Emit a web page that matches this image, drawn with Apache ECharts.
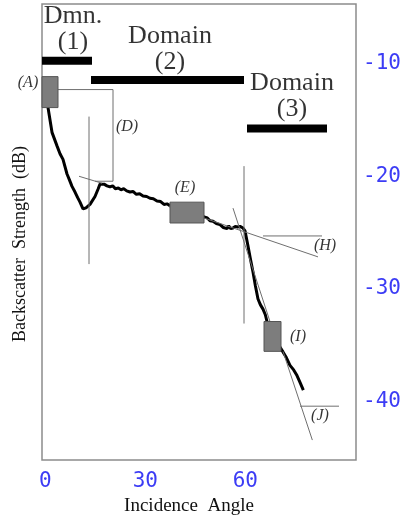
<!DOCTYPE html>
<html>
<head>
<meta charset="utf-8">
<script src="https://cdn.jsdelivr.net/npm/echarts@6/dist/echarts.min.js"></script>
<style>
  html, body { margin: 0; padding: 0; background: #fff; }
  #chart { width: 406px; height: 521px; }
</style>
</head>
<body>
<div id="chart"></div>
<script>
// incidence angle (deg) vs backscatter strength (dB)
const curve = [
  [0.8, -13.9], [2.0, -16.1], [3.5, -17.3], [4.4, -18.0], [5.3, -18.5], [6.5, -19.8],
  [7.2, -20.3], [8.0, -20.9], [8.9, -21.4], [9.7, -21.9], [10.4, -22.3], [11.3, -22.9],
  [12.2, -22.8], [13.4, -22.5], [14.9, -21.8], [15.8, -21.15], [16.4, -20.7], [17.0, -20.85],
  [17.6, -20.7], [18.5, -20.85], [19.4, -20.95], [20.2, -20.85], [21.0, -21.1], [21.9, -21.05],
  [22.7, -21.2], [23.5, -21.1], [24.4, -21.3], [25.4, -21.4], [26.3, -21.35], [27.3, -21.6],
  [28.3, -21.55], [29.3, -21.75], [30.4, -21.8], [31.4, -21.95], [32.4, -22.0], [33.5, -22.2],
  [34.6, -22.25], [35.6, -22.5], [36.5, -22.45], [37.5, -22.65], [40.0, -22.9], [42.5, -23.2],
  [45.0, -23.4], [47.6, -23.6], [48.6, -23.7], [49.4, -23.95], [50.3, -24.0], [51.3, -24.2],
  [52.4, -24.3], [53.4, -24.55], [54.5, -24.65], [55.0, -24.4], [55.6, -24.65], [56.3, -24.6],
  [57.0, -24.45], [57.7, -24.5], [58.4, -24.45], [59.3, -24.6], [59.9, -24.85], [60.8, -26.2],
  [61.5, -27.3], [62.3, -28.5], [63.0, -29.7], [63.8, -30.9], [64.5, -31.4], [65.3, -31.8],
  [66.0, -32.3], [66.5, -32.9], [68.0, -34.2], [70.0, -35.0], [71.3, -35.6], [72.3, -36.1],
  [73.4, -36.8], [74.5, -37.2], [75.5, -37.7], [76.4, -38.3], [77.4, -39.0]
];

// domain bars: [from deg, to deg, dB]
const domainBars = [
  [-1.0, 14.0, -9.74],
  [13.7, 59.6, -11.46],
  [60.5, 84.5, -15.75]
];

// grey boxes: [x0, x1, y0, y1]
const boxes = [
  [-1.0, 3.8, -11.15, -13.9],
  [37.4, 47.6, -22.3, -24.15],
  [65.6, 70.7, -32.9, -35.55]
];

// thin construction lines
const guides = [
  [[13.1, -14.7], [13.1, -27.8]],
  [[3.8, -12.3], [20.3, -12.3], [20.3, -20.44], [14.9, -20.44]],
  [[10.1, -20.0], [17.0, -20.62]],
  [[37.1, -22.65], [81.8, -27.16]],
  [[65.3, -25.3], [83.0, -25.3]],
  [[56.3, -22.83], [67.4, -32.91]],
  [[59.6, -19.1], [59.6, -33.08]],
  [[71.3, -35.56], [80.1, -43.43]],
  [[76.4, -40.42], [88.1, -40.42]]
];

const domainLabels = [
  ['Dmn.\n(1)', 8.3, -6.91],
  ['Domain\n(2)', 37.4, -8.68],
  ['Domain\n(3)', 74.0, -12.92]
];

const markLabels = [
  ['(A)', -5.2, -11.68],
  ['(D)', 24.5, -15.58],
  ['(E)', 41.9, -21.06],
  ['(H)', 83.9, -26.19],
  ['(I)', 75.8, -34.23],
  ['(J)', 82.4, -41.3]
];

const xTicks = [0, 30, 60];
const yTicks = [-10, -20, -30, -40];

const serif = '"Liberation Serif", "Times New Roman", serif';

const chart = echarts.init(document.getElementById('chart'));

const guideSeries = guides.map(seg => ({
  type: 'line',
  data: seg,
  showSymbol: false,
  silent: true,
  clip: false,
  lineStyle: { color: '#6f6f6f', width: 1 },
  z: 3
}));

const barSeries = domainBars.map(b => ({
  type: 'line',
  data: [[b[0], b[2]], [b[1], b[2]]],
  showSymbol: false,
  silent: true,
  clip: false,
  lineStyle: { color: '#000', width: 8, cap: 'butt' },
  z: 4
}));

const option = {
  animation: false,
  backgroundColor: '#fff',
  grid: {
    left: 42, right: 50, top: 4, bottom: 59,
    show: true, borderColor: '#8c8c8c', borderWidth: 1.5
  },
  xAxis: {
    type: 'value',
    min: -1, max: 93.2,
    axisLine: { show: false },
    axisTick: { show: false },
    splitLine: { show: false },
    axisLabel: {
      customValues: xTicks,
      margin: 11,
      color: '#3c3cf5',
      fontFamily: 'DejaVu Sans Mono',
      fontSize: 21
    },
    name: 'Incidence  Angle',
    nameLocation: 'middle',
    nameGap: 37,
    nameTextStyle: {
      fontFamily: serif,
      fontSize: 19,
      color: '#111',
      padding: [0, 20, 0, 0]
    }
  },
  yAxis: {
    type: 'value',
    position: 'right',
    min: -45.2, max: -4.7,
    axisLine: { show: false },
    axisTick: { show: false },
    splitLine: { show: false },
    axisLabel: {
      customValues: yTicks,
      margin: 7,
      color: '#3c3cf5',
      fontFamily: 'DejaVu Sans Mono',
      fontSize: 21
    }
  },
  graphic: [{
    type: 'text',
    x: 20, y: 244,
    rotation: Math.PI / 2,
    style: {
      text: 'Backscatter  Strength  (dB)',
      font: '18px "Liberation Serif"',
      fill: '#111',
      align: 'center',
      verticalAlign: 'middle'
    }
  }],
  series: [
    {
      type: 'line',
      data: curve,
      showSymbol: false,
      silent: true,
      lineStyle: { color: '#000', width: 3 },
      z: 2
    },
    ...guideSeries,
    ...barSeries,
    {
      type: 'custom',
      silent: true,
      clip: false,
      z: 5,
      data: boxes,
      renderItem: (params, api) => {
        const p0 = api.coord([api.value(0), api.value(2)]);
        const p1 = api.coord([api.value(1), api.value(3)]);
        return {
          type: 'rect',
          shape: { x: p0[0], y: p0[1], width: p1[0] - p0[0], height: p1[1] - p0[1] },
          style: { fill: '#7d7d7d', stroke: '#555', lineWidth: 1 }
        };
      }
    },
    {
      type: 'scatter',
      symbolSize: 0,
      silent: true,
      clip: false,
      data: domainLabels.map(d => ({ name: d[0], value: [d[1], d[2]] })),
      label: {
        show: true,
        position: 'inside',
        formatter: p => p.name,
        fontFamily: serif,
        fontSize: 26,
        lineHeight: 26,
        color: '#000',
        align: 'center'
      },
      z: 6
    },
    {
      type: 'scatter',
      symbolSize: 0,
      silent: true,
      clip: false,
      data: markLabels.map(d => ({ name: d[0], value: [d[1], d[2]] })),
      label: {
        show: true,
        position: 'inside',
        formatter: p => p.name,
        fontFamily: serif,
        fontStyle: 'italic',
        fontSize: 16,
        color: '#000'
      },
      z: 6
    }
  ]
};

chart.setOption(option);
</script>
</body>
</html>
